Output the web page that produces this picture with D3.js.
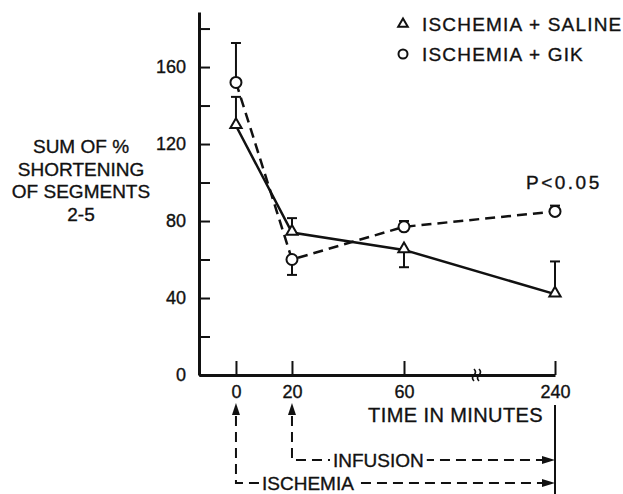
<!DOCTYPE html>
<html>
<head>
<meta charset="utf-8">
<script src="https://cdn.jsdelivr.net/npm/d3@7"></script>
<style>
  body { margin: 0; background: #fff; }
  text { font-family: "Liberation Sans", Arial, sans-serif; fill: #111; stroke: #111; stroke-width: 0.35px; }
</style>
</head>
<body>
<div id="chart"></div>
<script>
// data
var times = [0, 20, 60, 240];
var saline = [129.5, 74, 65, 42];
var salineErr = [144.5, 81.5, 56, 59];   // end of the one-sided error bar
var gik = [152, 60, 77, 85];
var gikErr = [172.5, 52, 80, 88];
var yTicks = [0, 20, 40, 60, 80, 100, 120, 140, 160, 180];
var yTitle = ["SUM OF %", "SHORTENING", "OF SEGMENTS", "2-5"];
var legendLabels = ["ISCHEMIA + SALINE", "ISCHEMIA + GIK"];

var width = 623, height = 494;

var svg = d3.select("#chart").append("svg")
    .attr("width", width)
    .attr("height", height);

// broken time axis: linear up to 60, compressed after the break
var x = d3.scaleLinear()
    .domain([-13.2, 60, 86.4, 240])
    .range([199, 404, 478, 555]);
var y = d3.scaleLinear()
    .domain([0, 188.6])
    .range([375, 12]);

// y axis
var yAxis = svg.append("g")
    .attr("transform", "translate(" + x(-13.2) + ",0)")
    .call(d3.axisLeft(y).tickValues(yTicks).tickSizeInner(-11).tickSizeOuter(0).tickPadding(13)
        .tickFormat(function(d) { return d % 40 === 0 ? d : ""; }));
yAxis.select(".domain").attr("stroke-width", 3).attr("stroke", "#111");
yAxis.selectAll(".tick line").attr("stroke-width", 2).attr("stroke", "#111");
yAxis.selectAll("text").style("font-size", "18px").attr("font-family", null).attr("fill", null);

// x axis
var xAxis = svg.append("g")
    .attr("transform", "translate(0," + y(0) + ")")
    .call(d3.axisBottom(x).tickValues(times).tickSizeInner(-14).tickSizeOuter(0).tickPadding(10));
xAxis.select(".domain").attr("stroke-width", 3).attr("stroke", "#111");
xAxis.selectAll(".tick line").attr("stroke-width", 2).attr("stroke", "#111");
xAxis.selectAll("text").style("font-size", "18px").attr("font-family", null).attr("fill", null);

// break mark on the time axis
var bx = x(86.4), by = y(0);
svg.append("path")
    .attr("d", "M" + (bx - 4) + "," + (by - 6) + " q3,3 0,6 q-3,3 0,6 M" + (bx + 1) + "," + (by - 6) + " q3,3 0,6 q-3,3 0,6")
    .attr("fill", "none").attr("stroke", "#111").attr("stroke-width", 1.6);

// x title
svg.append("text")
    .attr("x", 543).attr("y", 422)
    .attr("text-anchor", "end")
    .style("font-size", "20px")
    .style("letter-spacing", "0.4px")
    .text("TIME IN MINUTES");

// y title
svg.append("text")
    .attr("text-anchor", "middle")
    .style("font-size", "19px")
    .selectAll("tspan").data(yTitle).enter().append("tspan")
    .attr("x", 81)
    .attr("y", function(d, i) { return 153 + i * 22.5; })
    .text(function(d) { return d; });

var line = d3.line()
    .x(function(d, i) { return x(times[i]); })
    .y(function(d) { return y(d); });

// error bar stems go under the markers, caps on top
function errorStems(vals, errs) {
    svg.append("g").attr("stroke", "#111").attr("stroke-width", 2)
      .selectAll("line").data(vals).enter().append("line")
        .attr("x1", function(d, i) { return x(times[i]); })
        .attr("x2", function(d, i) { return x(times[i]); })
        .attr("y1", function(d) { return y(d); })
        .attr("y2", function(d, i) { return y(errs[i]); });
}
function errorCaps(errs) {
    svg.append("g").attr("stroke", "#111").attr("stroke-width", 2)
      .selectAll("line").data(errs).enter().append("line")
        .attr("x1", function(d, i) { return x(times[i]) - 5; })
        .attr("x2", function(d, i) { return x(times[i]) + 5; })
        .attr("y1", function(d) { return y(d); })
        .attr("y2", function(d) { return y(d); });
}
errorStems(saline, salineErr);
errorStems(gik, gikErr);

svg.append("path").datum(saline)
    .attr("d", line)
    .attr("fill", "none").attr("stroke", "#111").attr("stroke-width", 2.5);
svg.append("path").datum(gik)
    .attr("d", line)
    .attr("fill", "none").attr("stroke", "#111").attr("stroke-width", 2.5)
    .attr("stroke-dasharray", "10,6");

var triangle = d3.symbol().type(d3.symbolTriangle).size(55);

svg.selectAll("path.tri").data(saline).enter().append("path")
    .attr("transform", function(d, i) { return "translate(" + x(times[i]) + "," + (y(d) - 1) + ")"; })
    .attr("d", triangle)
    .attr("fill", "#fff").attr("stroke", "#111").attr("stroke-width", 2);

svg.selectAll("circle.gik").data(gik).enter().append("circle")
    .attr("cx", function(d, i) { return x(times[i]); })
    .attr("cy", function(d) { return y(d); })
    .attr("r", 5.5)
    .attr("fill", "#fff").attr("stroke", "#111").attr("stroke-width", 2);

errorCaps(salineErr);
errorCaps(gikErr);

// legend
var legend = svg.append("g");
legend.append("path")
    .attr("transform", "translate(403,24)")
    .attr("d", d3.symbol().type(d3.symbolTriangle).size(40))
    .attr("fill", "#fff").attr("stroke", "#111").attr("stroke-width", 2);
legend.append("circle")
    .attr("cx", 403).attr("cy", 54).attr("r", 4.5)
    .attr("fill", "#fff").attr("stroke", "#111").attr("stroke-width", 2);
legend.selectAll("text").data(legendLabels).enter().append("text")
    .attr("x", 422)
    .attr("y", function(d, i) { return 31 + i * 30; })
    .style("font-size", "19px")
    .style("letter-spacing", "1.2px")
    .text(function(d) { return d; });

svg.append("text")
    .attr("x", 526).attr("y", 189)
    .style("font-size", "19px")
    .style("letter-spacing", "2.5px")
    .text("P<0.05");

// timeline annotations under the axis
svg.append("line")
    .attr("x1", x(240)).attr("x2", x(240))
    .attr("y1", 405).attr("y2", height)
    .attr("stroke", "#111").attr("stroke-width", 2);

function marker(t, yLine, label, labelX) {
    var g = svg.append("g");
    var x0 = x(t), x1 = x(240);
    g.append("path")
        .attr("d", "M" + x0 + ",416 V" + yLine + " H" + (x1 - 10))
        .attr("fill", "none").attr("stroke", "#111").attr("stroke-width", 2)
        .attr("stroke-dasharray", "10,6");
    // arrowheads
    g.append("path")
        .attr("d", "M" + x0 + ",403 l-4,12 l8,0 z")
        .attr("fill", "#111");
    g.append("path")
        .attr("d", "M" + x1 + "," + yLine + " l-13,-4 l0,8 z")
        .attr("fill", "#111");
    var txt = g.append("text")
        .attr("x", labelX).attr("y", yLine + 7)
        .style("font-size", "19px")
        .text(label);
    var bb = txt.node().getBBox();
    g.insert("rect", "text")
        .attr("x", bb.x - 3).attr("y", yLine - 3)
        .attr("width", bb.width + 6).attr("height", 6)
        .attr("fill", "#fff");
}
marker(20, 460, "INFUSION", 333);
marker(0, 483, "ISCHEMIA", 262);
</script>
</body>
</html>
